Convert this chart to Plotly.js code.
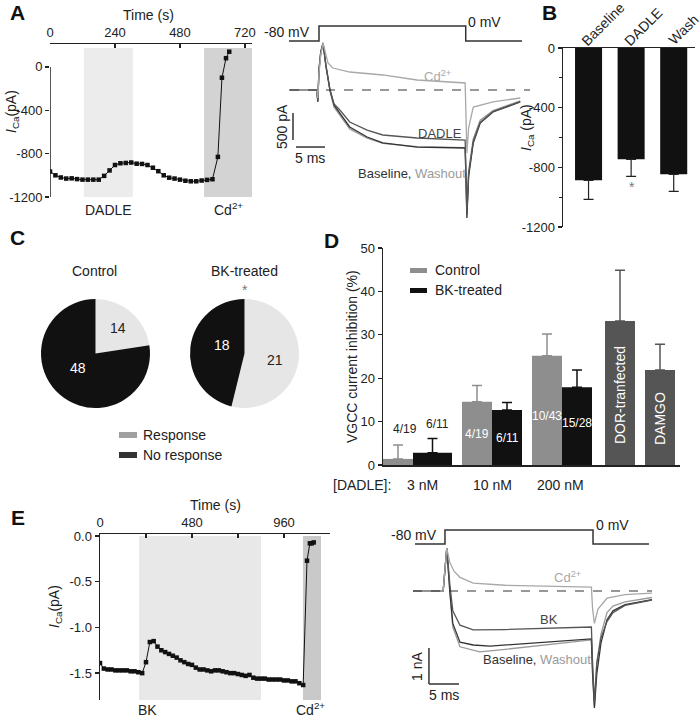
<!DOCTYPE html>
<html><head><meta charset="utf-8">
<script src="https://cdn.plot.ly/plotly-3.0.1.min.js"></script>
<style>body{margin:0;background:#fff}#chart{width:700px;height:719px}</style>
</head><body><div id="chart"></div>
<script>
// ================= DATA =================
// Panel A (left): I_Ca time course (s, pA)
const aTime = [0,20,40,60,80,100,120,140,160,180,200,220,240,260,280,300,320,340,360,380,400,420,440,460,480,500,520,540,560,580,600,620,635,650,662];
const aICa  = [-965,-1000,-1020,-1030,-1028,-1035,-1040,-1040,-1040,-1040,-1005,-955,-905,-889,-886,-882,-893,-895,-905,-930,-962,-1000,-1022,-1030,-1040,-1050,-1055,-1055,-1048,-1042,-1036,-830,-100,80,140];
const aDadleWin = [125, 306];
const aCdWin = [569, 746];
const aTimeTicks = [0,240,480,720];
const aYTicks = [0,-400,-800,-1200];

// Panel A (right): current traces (ms, pA)
const aBaseT = [-5.2,-0.4,-0.2,0,0.3,0.7,1.2,1.9,2.6,3.6,5.3,8.3,11,16.9,25.2,25.35,25.5,25.8,26.6,27.8,30,34.7];
const aBaseI = [0,0,-220,380,700,870,450,0,-280,-426,-685,-870,-981,-1056,-1074,-1700,-2370,-1600,-980,-611,-407,-222];
const aWashI = [0,0,-200,350,680,850,430,-20,-320,-470,-720,-890,-990,-1050,-1065,-1650,-2300,-1500,-900,-560,-380,-200];
const aDadleI = [0,0,-200,380,700,870,450,0,-260,-370,-593,-741,-833,-889,-926,-1600,-2300,-1550,-950,-600,-400,-215];
const aCdT = [-5.2,-0.4,-0.2,0,0.3,0.7,1.55,2.4,5.3,11,16.9,25.2,25.35,25.5,25.8,26.6,30,34.7];
const aCdI = [0,0,-150,300,650,870,500,407,333,278,185,130,-500,-1167,-700,-315,-220,-148];
const aVoltT = [-5.3,0,0,25.3,25.3,35];
const aVoltMV = [-80,-80,0,0,-80,-80];

// Panel B
const bCategories = ['Baseline','DADLE','Wash'];
const bMeans = [-887,-746,-847];
const bErr = [128,114,114];
const bYTicks = [0,-400,-800,-1200];
const bYMinor = [-200,-600,-1000];

// Panel C
const cGroups = ['Control','BK-treated'];
const cResponse = [14,21];
const cNoResponse = [48,18];

// Panel D
const dDoses = ['3 nM','10 nM','200 nM'];
const dControl = [1.4,14.6,25.2];
const dControlErr = [3.2,3.7,5.0];
const dControlN = ['4/19','4/19','10/43'];
const dBK = [2.8,12.7,17.9];
const dBKErr = [3.3,1.7,4.0];
const dBKN = ['6/11','6/11','15/28'];
const dOtherNames = ['DOR-tranfected','DAMGO'];
const dOther = [33.2,21.9];
const dOtherErr = [11.7,5.9];
const dYTicks = [0,10,20,30,40,50];

// Panel E (left): time course (s, pA)
const eTime = [0,20,40,60,80,100,120,140,160,180,200,220,240,260,280,300,320,340,360,380,400,420,440,460,480,500,520,540,560,580,600,620,640,660,680,700,720,740,760,780,800,820,840,860,880,900,920,940,960,980,1000,1020,1040,1060,1080,1095,1105,1115];
const eICa  = [-1.39,-1.45,-1.46,-1.46,-1.47,-1.47,-1.47,-1.47,-1.48,-1.48,-1.49,-1.50,-1.38,-1.16,-1.15,-1.21,-1.25,-1.27,-1.29,-1.31,-1.33,-1.36,-1.38,-1.40,-1.41,-1.44,-1.46,-1.46,-1.47,-1.48,-1.47,-1.47,-1.48,-1.49,-1.50,-1.50,-1.51,-1.52,-1.53,-1.52,-1.55,-1.56,-1.56,-1.56,-1.57,-1.57,-1.57,-1.57,-1.58,-1.58,-1.59,-1.59,-1.61,-1.63,-0.27,-0.08,-0.08,-0.07];
const eBKWin = [204, 840];
const eCdWin = [1059, 1153];
const eTimeTicks = [0,240,480,720,960,1200];
const eTimeText = ['0',' ','480',' ','960',' '];
const eYTicks = [0,-0.5,-1,-1.5];
const eYText = ['0.0','-0.5','-1.0','-1.5'];

// Panel E (right): current traces (ms, nA)
const eBaseT = [-5.3,-0.3,0,0.3,0.8,1.3,2.5,4.7,7.5,15,24.4,24.6,24.9,25.3,26,27,28,30,34.5];
const eBaseI = [0,0,0.6,1.19,0,-0.9,-1.42,-1.5,-1.53,-1.45,-1.33,-2.3,-3.25,-2.3,-1.44,-0.8,-0.55,-0.38,-0.24];
const eWashT = [-5.3,-0.3,0,0.3,0.8,1.3,2.5,5.8,10,17,24.4,24.6,24.9,25.3,26,27,28,30,34.5];
const eWashI = [0,0,0.6,1.19,0,-1.0,-1.55,-1.69,-1.62,-1.5,-1.36,-2.3,-3.2,-2.0,-1.2,-0.6,-0.42,-0.3,-0.18];
const eBKT = [-5.3,-0.3,0,0.3,0.8,1.3,2.5,4.7,10,17,24.4,24.6,24.9,25.3,26,27,28,30,34.5];
const eBKI = [0,0,0.6,1.19,0.2,-0.55,-0.95,-1.08,-1.07,-1.04,-1.0,-2.0,-3.1,-2.0,-1.3,-0.85,-0.6,-0.4,-0.25];
const eCdT = [-5.3,-0.3,0,0.3,0.8,1.5,2.5,4.7,10,17,24.4,24.6,24.9,25.5,27,30,34.5];
const eCdI = [0,0,0.6,1.19,0.8,0.55,0.38,0.22,0.16,0.13,0.11,-0.5,-0.9,-0.5,-0.2,-0.1,-0.06];
const eVoltT = [-5,0,0,24.67,24.67,34];
const eVoltMV = [-80,-80,0,0,-80,-80];

// ================= LAYOUT HELPERS =================
const W = 700, H = 719;
const FONT = 'Liberation Sans, Arial, Helvetica, sans-serif';
const INK = '#222';
const dom = (a, b) => [a / W, b / W];
const vdom = (top, bottom) => [1 - bottom / H, 1 - top / H];
const PX = x => x / W;
const PY = y => 1 - y / H;
const hidden = {visible: false, showgrid: false, zeroline: false, fixedrange: true};

const annotations = [];
function note(text, x, y, opt = {}) {
  annotations.push(Object.assign({
    text: text, xref: 'paper', yref: 'paper', x: PX(x), y: PY(y),
    showarrow: false, xanchor: 'center', yanchor: 'middle',
    font: {family: FONT, size: 14, color: INK}
  }, opt));
}
const shapes = [];
const traces = [];

// ---------- Panel A left ----------
traces.push({x: aTime, y: aICa, xaxis: 'x', yaxis: 'y', type: 'scatter', mode: 'lines+markers',
  line: {color: '#111', width: 1}, marker: {symbol: 'square', size: 4.5, color: '#111'}, hoverinfo: 'skip'});
shapes.push({type: 'rect', xref: 'x', yref: 'y', x0: aDadleWin[0], x1: aDadleWin[1], y0: -1200, y1: 175, fillcolor: '#ececec', line: {width: 0}, layer: 'below'});
shapes.push({type: 'rect', xref: 'x', yref: 'y', x0: aCdWin[0], x1: aCdWin[1], y0: -1200, y1: 175, fillcolor: '#d3d3d3', line: {width: 0}, layer: 'below'});
shapes.push({type: 'line', xref: 'x', yref: 'y', x0: 0, x1: 0, y0: -1200, y1: 0, line: {color: INK, width: 1.5}});

// ---------- Panel A right ----------
const aTr = [
  {x: aBaseT, y: aWashI, c: '#9a9a9a'},
  {x: aBaseT, y: aBaseI, c: '#333'},
  {x: aBaseT, y: aDadleI, c: '#555'},
  {x: aCdT, y: aCdI, c: '#a8a8a8'}
];
aTr.forEach(t => traces.push({x: t.x, y: t.y, xaxis: 'x2', yaxis: 'y2', type: 'scatter', mode: 'lines',
  line: {color: t.c, width: 1.3}, hoverinfo: 'skip'}));
traces.push({x: aVoltT, y: aVoltMV, xaxis: 'x3', yaxis: 'y3', type: 'scatter', mode: 'lines',
  line: {color: '#333', width: 1.5}, hoverinfo: 'skip'});
shapes.push({type: 'line', xref: 'x2', yref: 'y2', x0: -5.0, x1: 36.4, y0: 0, y1: 0, line: {color: '#333', width: 1.2, dash: 'dash'}});
shapes.push({type: 'line', xref: 'x2', yref: 'y2', x0: -4.48, x1: -4.48, y0: -426, y1: -926, line: {color: '#333', width: 1.5}});
shapes.push({type: 'line', xref: 'x2', yref: 'y2', x0: -3.97, x1: 1.03, y0: -1056, y1: -1056, line: {color: '#333', width: 1.5}});

// ---------- Panel B ----------
traces.push({x: bCategories, y: bMeans, xaxis: 'x4', yaxis: 'y4', type: 'bar', width: 0.635,
  marker: {color: '#111', line: {width: 0}},
  error_y: {type: 'data', symmetric: false, array: [0, 0, 0], arrayminus: bErr, color: '#222', thickness: 1.2, width: 5},
  hoverinfo: 'skip'});

// ---------- Panel C ----------
const pieDom = [dom(41, 150), dom(190, 299)];
cGroups.forEach((g, i) => traces.push({type: 'pie', values: [cResponse[i], cNoResponse[i]],
  labels: ['Response', 'No response'], marker: {colors: ['#e6e6e6', '#111'], line: {width: 0}},
  sort: false, direction: 'clockwise', rotation: 0, textinfo: 'none', hoverinfo: 'skip',
  domain: {x: pieDom[i], y: vdom(299, 408)}}));

// ---------- Panel D ----------
const dCtrlX = [398, 477, 547], dBKX = [432.5, 507, 577], dOtherX = [620, 660];
traces.push({x: dCtrlX, y: dControl, xaxis: 'x5', yaxis: 'y5', type: 'bar', width: [30, 30, 30],
  marker: {color: '#8e8e8e'}, error_y: {type: 'data', symmetric: false, array: dControlErr, arrayminus: [0, 0, 0], color: '#8e8e8e', thickness: 1.5, width: 5}, hoverinfo: 'skip'});
traces.push({x: dBKX, y: dBK, xaxis: 'x5', yaxis: 'y5', type: 'bar', width: [39, 30, 30],
  marker: {color: '#111'}, error_y: {type: 'data', symmetric: false, array: dBKErr, arrayminus: [0, 0, 0], color: '#111', thickness: 1.5, width: 5}, hoverinfo: 'skip'});
traces.push({x: dOtherX, y: dOther, xaxis: 'x5', yaxis: 'y5', type: 'bar', width: [30, 30],
  marker: {color: '#555'}, error_y: {type: 'data', symmetric: false, array: dOtherErr, arrayminus: [0, 0], color: '#555', thickness: 1.5, width: 5}, hoverinfo: 'skip'});

// ---------- Panel E left ----------
traces.push({x: eTime, y: eICa, xaxis: 'x6', yaxis: 'y6', type: 'scatter', mode: 'lines+markers',
  line: {color: '#111', width: 1}, marker: {symbol: 'square', size: 4.5, color: '#111'}, hoverinfo: 'skip'});
shapes.push({type: 'rect', xref: 'x6', yref: 'y6', x0: eBKWin[0], x1: eBKWin[1], y0: -1.794, y1: 0, fillcolor: '#e8e8e8', line: {width: 0}, layer: 'below'});
shapes.push({type: 'rect', xref: 'x6', yref: 'y6', x0: eCdWin[0], x1: eCdWin[1], y0: -1.794, y1: 0, fillcolor: '#c9c9c9', line: {width: 0}, layer: 'below'});

// ---------- Panel E right ----------
const eTr = [
  {x: eWashT, y: eWashI, c: '#9a9a9a'},
  {x: eBaseT, y: eBaseI, c: '#333'},
  {x: eBKT, y: eBKI, c: '#555'},
  {x: eCdT, y: eCdI, c: '#a8a8a8'}
];
eTr.forEach(t => traces.push({x: t.x, y: t.y, xaxis: 'x7', yaxis: 'y7', type: 'scatter', mode: 'lines',
  line: {color: t.c, width: 1.3}, hoverinfo: 'skip'}));
traces.push({x: eVoltT, y: eVoltMV, xaxis: 'x8', yaxis: 'y8', type: 'scatter', mode: 'lines',
  line: {color: '#333', width: 1.5}, hoverinfo: 'skip'});
shapes.push({type: 'line', xref: 'x7', yref: 'y7', x0: -5.33, x1: 34.5, y0: 0, y1: 0, line: {color: '#333', width: 1.2, dash: 'dash'}});
shapes.push({type: 'line', xref: 'x7', yref: 'y7', x0: -2.67, x1: -2.67, y0: -1.583, y1: -2.583, line: {color: '#333', width: 1.5}});
shapes.push({type: 'line', xref: 'x7', yref: 'y7', x0: -2.67, x1: 2.33, y0: -2.583, y1: -2.583, line: {color: '#333', width: 1.5}});

// ---------- legends drawn as swatches ----------
shapes.push({type: 'rect', xref: 'paper', yref: 'paper', x0: PX(119), x1: PX(137), y0: PY(438), y1: PY(432), fillcolor: '#a0a0a0', line: {width: 0}});
shapes.push({type: 'rect', xref: 'paper', yref: 'paper', x0: PX(119), x1: PX(137), y0: PY(458), y1: PY(452), fillcolor: '#333', line: {width: 0}});
shapes.push({type: 'rect', xref: 'paper', yref: 'paper', x0: PX(410), x1: PX(427), y0: PY(273), y1: PY(268), fillcolor: '#8e8e8e', line: {width: 0}});
shapes.push({type: 'rect', xref: 'paper', yref: 'paper', x0: PX(410), x1: PX(427), y0: PY(293), y1: PY(288), fillcolor: '#111', line: {width: 0}});

// ---------- annotations ----------
const bold = {family: FONT, size: 21, color: '#111', weight: 'bold'};
note('<b>A</b>', 17, 12, {font: bold});
note('<b>B</b>', 549, 12, {font: bold});
note('<b>C</b>', 17, 238, {font: bold});
note('<b>D</b>', 331, 240, {font: bold});
note('<b>E</b>', 18, 517, {font: bold});

const ICA = '<i>I</i><sub>Ca</sub>(pA)';
// A left
note('Time (s)', 148, 15);
note('DADLE', 108, 210);
note('Cd<sup>2+</sup>', 228, 209);
note(ICA, 12, 112, {textangle: -90});
// A right
note('-80 mV', 287, 32);
note('0 mV', 484, 22);
note('Cd<sup>2+</sup>', 437, 76, {font: {family: FONT, size: 13, color: '#a8a8a8'}});
note('DADLE', 440, 133, {font: {family: FONT, size: 13, color: '#444'}});
note('Baseline, <span style="color:#9a9a9a">Washout</span>', 412, 173, {font: {family: FONT, size: 13, color: '#333'}});
note('500 pA', 282, 127, {textangle: -90});
note('5 ms', 310, 158);
// B
note('<i>I</i><sub>Ca</sub> (pA)', 527, 128, {textangle: -90});
note('*', 632, 187, {font: {family: FONT, size: 14, color: '#777'}});
const bLabelPos = [[603, 24], [643, 27], [683, 30]];
bCategories.forEach((c, i) => note(c, bLabelPos[i][0], bLabelPos[i][1], {textangle: -45}));
// C
note('Control', 95, 271);
note('BK-treated', 245, 271);
note('*', 245, 290, {font: {family: FONT, size: 14, color: '#777'}});
note(String(cResponse[0]), 118, 328, {font: {family: FONT, size: 14, color: '#222'}});
note(String(cNoResponse[0]), 78, 368, {font: {family: FONT, size: 14, color: '#fff'}});
note(String(cNoResponse[1]), 222, 345, {font: {family: FONT, size: 14, color: '#fff'}});
note(String(cResponse[1]), 275, 360, {font: {family: FONT, size: 14, color: '#222'}});
note('Response', 141, 435, {xanchor: 'left'});
note('No response', 141, 455, {xanchor: 'left'});
// D
note('Control', 433, 270, {xanchor: 'left'});
note('BK-treated', 433, 290, {xanchor: 'left'});
note('VGCC current inhibition (%)', 352, 357, {textangle: -90});
note(dControlN[0], 405, 429, {font: {family: FONT, size: 12, color: '#222'}});
note(dBKN[0], 437, 424, {font: {family: FONT, size: 12, color: '#222'}});
note(dControlN[1], 477, 434, {font: {family: FONT, size: 12, color: '#fff'}});
note(dBKN[1], 507, 438, {font: {family: FONT, size: 12, color: '#fff'}});
note(dControlN[2], 547, 416, {font: {family: FONT, size: 12, color: '#fff'}});
note(dBKN[2], 577, 423, {font: {family: FONT, size: 12, color: '#fff'}});
note(dOtherNames[0], 620, 395, {textangle: -90, font: {family: FONT, size: 14, color: '#fff'}});
note(dOtherNames[1], 660, 419, {textangle: -90, font: {family: FONT, size: 14, color: '#fff'}});
note('[DADLE]:', 362, 485);
note(dDoses[0], 422, 485);
note(dDoses[1], 492, 485);
note(dDoses[2], 560, 485);
// E left
note('Time (s)', 215, 505);
note('BK', 147, 710);
note('Cd<sup>2+</sup>', 310, 709);
note(ICA, 55, 607, {textangle: -90});
// E right
note('-80 mV', 414, 535);
note('0 mV', 612, 525);
note('Cd<sup>2+</sup>', 567, 577, {font: {family: FONT, size: 13, color: '#a8a8a8'}});
note('BK', 549, 619, {font: {family: FONT, size: 13, color: '#444'}});
note('Baseline, <span style="color:#9a9a9a">Washout</span>', 537, 659, {font: {family: FONT, size: 13, color: '#333'}});
note('1 nA', 417, 667, {textangle: -90});
note('5 ms', 444, 695);

// ================= AXES =================
const tickFont = {family: FONT, size: 13, color: INK};
const lineAx = {showgrid: false, zeroline: false, linecolor: INK, linewidth: 1.5, tickcolor: INK, tickwidth: 1.3, tickfont: tickFont, fixedrange: true};

const layout = {
  width: W, height: H, margin: {l: 0, r: 0, t: 0, b: 0},
  paper_bgcolor: '#fff', plot_bgcolor: 'rgba(0,0,0,0)', showlegend: false,
  font: {family: FONT, size: 13, color: INK},
  xaxis: Object.assign({}, lineAx, {domain: dom(50, 252), range: [0, 746], anchor: 'y', side: 'top', showline: true,
    ticks: 'inside', ticklen: 4, tickmode: 'array', tickvals: aTimeTicks, ticktext: aTimeTicks.map(String)}),
  yaxis: Object.assign({}, lineAx, {domain: vdom(44, 197), range: [-1200, 211], anchor: 'x', showline: false,
    ticks: 'outside', ticklen: 4, tickmode: 'array', tickvals: aYTicks, ticktext: aYTicks.map(String)}),
  xaxis2: Object.assign({}, hidden, {domain: dom(289, 530), range: [-5.17, 36.38], anchor: 'y2'}),
  yaxis2: Object.assign({}, hidden, {domain: vdom(20, 220), range: [-2407, 1296], anchor: 'x2'}),
  xaxis3: Object.assign({}, hidden, {domain: dom(289, 530), range: [-5.17, 36.38], anchor: 'y3'}),
  yaxis3: Object.assign({}, hidden, {domain: vdom(20, 45), range: [-101.3, 32], anchor: 'x3'}),
  xaxis4: Object.assign({}, lineAx, {domain: dom(563, 695), range: [-0.6, 2.5], anchor: 'y4', side: 'top', showline: true,
    type: 'category', ticks: '', showticklabels: false}),
  yaxis4: Object.assign({}, lineAx, {domain: vdom(48, 227), range: [-1200, 0], anchor: 'x4', showline: true,
    ticks: 'outside', ticklen: 4, tickmode: 'array', tickvals: bYTicks, ticktext: bYTicks.map(String),
    minor: {tickmode: 'array', tickvals: bYMinor, ticks: 'outside', ticklen: 3, tickcolor: INK}}),
  xaxis5: Object.assign({}, lineAx, {domain: dom(383, 680), range: [383, 680], anchor: 'y5', showline: true,
    ticks: '', showticklabels: false}),
  yaxis5: Object.assign({}, lineAx, {domain: vdom(248, 465), range: [0, 50], anchor: 'x5', showline: true,
    ticks: 'outside', ticklen: 4, tickmode: 'array', tickvals: dYTicks, ticktext: dYTicks.map(String)}),
  xaxis6: Object.assign({}, lineAx, {domain: dom(100, 330), range: [0, 1200], anchor: 'y6', side: 'top', showline: true,
    ticks: 'inside', ticklen: 4, tickmode: 'array', tickvals: eTimeTicks, ticktext: eTimeText}),
  yaxis6: Object.assign({}, lineAx, {domain: vdom(534, 700), range: [-1.794, 0.022], anchor: 'x6', showline: true,
    ticks: 'outside', ticklen: 4, tickmode: 'array', tickvals: eYTicks, ticktext: eYText}),
  xaxis7: Object.assign({}, hidden, {domain: dom(413, 652), range: [-5.33, 34.5], anchor: 'y7'}),
  yaxis7: Object.assign({}, hidden, {domain: vdom(545, 715), range: [-3.444, 1.278], anchor: 'x7'}),
  xaxis8: Object.assign({}, hidden, {domain: dom(413, 652), range: [-5.33, 34.5], anchor: 'y8'}),
  yaxis8: Object.assign({}, hidden, {domain: vdom(525, 550), range: [-114.3, 28.6], anchor: 'x8'}),
  shapes: shapes,
  annotations: annotations
};

Plotly.newPlot('chart', traces, layout, {displayModeBar: false, staticPlot: true});
</script>
</body></html>
